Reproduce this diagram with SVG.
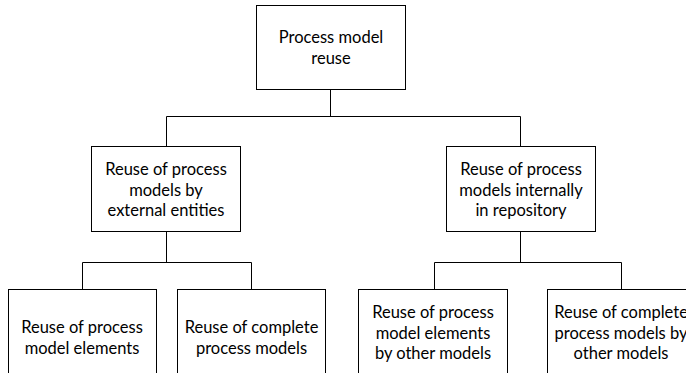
<svg xmlns="http://www.w3.org/2000/svg" width="686" height="373" viewBox="0 0 686 373">
<style>
.box{fill:#fff;stroke:#000;stroke-width:1}
.lbl{font-family:Lato,"Liberation Sans",sans-serif;font-size:16.5px;fill:#000;text-anchor:middle}
.con{fill:none;stroke:#000;stroke-width:1}
</style>
<rect width="686" height="373" fill="#fff"/>
<g id="connectors">
<path class="con" d="M330.5 89.5V116.5M166.5 116.5H520.5M166.5 116.5V146.5M520.5 116.5V146.5"/>
<path class="con" d="M166.5 231.5V262.5M82.5 262.5H251.5M82.5 262.5V289.5M251.5 262.5V289.5"/>
<path class="con" d="M520.5 231.5V262.5M434.5 262.5H621.5M434.5 262.5V289.5M621.5 262.5V289.5"/>
</g>
<g id="root">
<rect class="box" x="256.5" y="5.5" width="149" height="84"/>
<text class="lbl" x="331" y="43">Process model</text>
<text class="lbl" x="331" y="64">reuse</text>
</g>
<g id="external">
<rect class="box" x="91.5" y="146.5" width="149" height="85"/>
<text class="lbl" x="166" y="175">Reuse of process</text>
<text class="lbl" x="166" y="195.5">models by</text>
<text class="lbl" x="166" y="216">external entities</text>
</g>
<g id="internal">
<rect class="box" x="446.5" y="146.5" width="149" height="85"/>
<text class="lbl" x="521" y="175">Reuse of process</text>
<text class="lbl" x="521" y="195.5">models internally</text>
<text class="lbl" x="521" y="216">in repository</text>
</g>
<g id="ext-elements">
<rect class="box" x="8.5" y="289.5" width="148" height="95"/>
<text class="lbl" x="82" y="333">Reuse of process</text>
<text class="lbl" x="82" y="353.5">model elements</text>
</g>
<g id="ext-complete">
<rect class="box" x="177.5" y="289.5" width="148" height="95"/>
<text class="lbl" x="251.5" y="333">Reuse of complete</text>
<text class="lbl" x="251.5" y="353.5">process models</text>
</g>
<g id="int-elements">
<rect class="box" x="358.5" y="289.5" width="149" height="95"/>
<text class="lbl" x="433" y="318">Reuse of process</text>
<text class="lbl" x="433" y="338.5">model elements</text>
<text class="lbl" x="433" y="359">by other models</text>
</g>
<g id="int-complete">
<rect class="box" x="547.5" y="289.5" width="148" height="95"/>
<text class="lbl" x="621" y="318">Reuse of complete</text>
<text class="lbl" x="621" y="338.5">process models by</text>
<text class="lbl" x="621" y="359">other models</text>
</g>
</svg>
